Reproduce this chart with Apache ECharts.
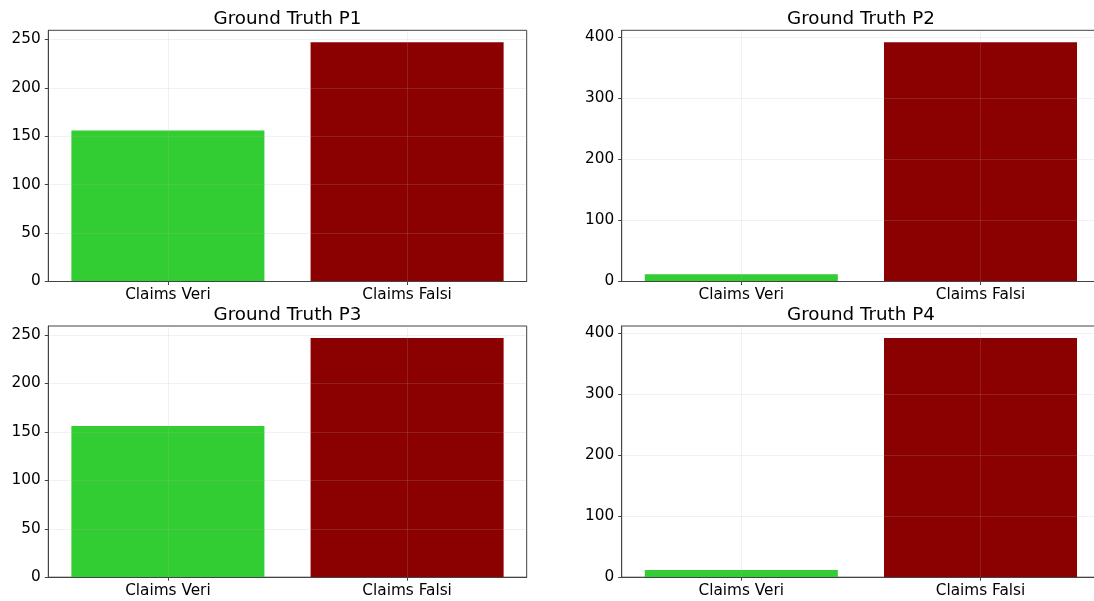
<!DOCTYPE html>
<html>
<head>
<meta charset="utf-8">
<script src="https://cdn.jsdelivr.net/npm/echarts@6/dist/echarts.min.js"></script>
<style>
  html, body { margin: 0; padding: 0; background: #fff; overflow: hidden; }
  /* the right-hand column runs a few pixels past the page edge */
  #chart { width: 1102px; height: 601px; }
</style>
</head>
<body>
<div id="chart"></div>
<script>
// Claim counts per ground-truth set
const categories = ['Claims Veri', 'Claims Falsi'];
const panelTitles = ['Ground Truth P1', 'Ground Truth P2', 'Ground Truth P3', 'Ground Truth P4'];
const valuesP1 = [156, 247];
const valuesP2 = [12, 392];
const valuesP3 = [156, 247];
const valuesP4 = [12, 392];
const ticksP1 = [0, 50, 100, 150, 200, 250];
const ticksP2 = [0, 100, 200, 300, 400];
const ticksP3 = [0, 50, 100, 150, 200, 250];
const ticksP4 = [0, 100, 200, 300, 400];
const barColors = ['#32CD32', '#8B0000'];

const panels = [
  { title: panelTitles[0], values: valuesP1, ticks: ticksP1 },
  { title: panelTitles[1], values: valuesP2, ticks: ticksP2 },
  { title: panelTitles[2], values: valuesP3, ticks: ticksP3 },
  { title: panelTitles[3], values: valuesP4, ticks: ticksP4 }
];

// subplot frames (2 x 2)
const frames = [
  { left: 48.3, top: 30.3 },
  { left: 621.7, top: 30.3 },
  { left: 48.3, top: 326 },
  { left: 621.7, top: 326 }
];
const plotW = 478.4, plotH = 251.2;
const FONT = 'DejaVu Sans';
const gridColor = 'rgba(176,176,176,0.18)';
const spineColor = '#444';

const option = {
  animation: false,
  backgroundColor: '#fff',
  title: panels.map((p, i) => ({
    text: p.title,
    left: frames[i].left + plotW / 2,
    top: frames[i].top - 20,
    textAlign: 'center',
    padding: 0,
    textStyle: { fontFamily: FONT, fontSize: 18.3, fontWeight: 'normal', color: '#000', lineHeight: 18.3 }
  })),
  grid: frames.map(f => ({
    left: f.left, top: f.top, width: plotW, height: plotH,
    show: true, borderColor: spineColor, borderWidth: 1, backgroundColor: 'transparent',
    containLabel: false
  })),
  xAxis: panels.map((p, i) => ({
    type: 'category',
    gridIndex: i,
    data: categories,
    z: 3,
    axisLine: { show: true, lineStyle: { color: spineColor, width: 1 } },
    axisTick: { show: true, alignWithLabel: true, length: 3.5, lineStyle: { color: spineColor } },
    axisLabel: { fontFamily: FONT, fontSize: 15.3, color: '#000', margin: 6, lineHeight: 16 },
    splitLine: { show: false }
  })),
  yAxis: panels.map((p, i) => ({
    type: 'value',
    gridIndex: i,
    min: 0,
    max: Math.max(...p.values) * 1.05,
    z: 3,
    axisLine: { show: true, lineStyle: { color: spineColor, width: 1 } },
    axisTick: { show: true, length: 3.5, customValues: p.ticks, lineStyle: { color: spineColor } },
    axisLabel: { fontFamily: FONT, fontSize: 15.3, color: '#000', margin: 7.5, customValues: p.ticks },
    splitLine: { show: true, lineStyle: { color: gridColor, width: 1 } }
  })),
  series: panels.map((p, i) => ({
    type: 'bar',
    xAxisIndex: i,
    yAxisIndex: i,
    barWidth: '80.7%',
    data: p.values.map((v, k) => ({ value: v, itemStyle: { color: barColors[k] } })),
    markLine: {
      silent: true,
      symbol: 'none',
      label: { show: false },
      lineStyle: { color: gridColor, width: 1, type: 'solid' },
      data: categories.map(c => ({ xAxis: c }))
    }
  }))
};

const chart = echarts.init(document.getElementById('chart'), null, { renderer: 'canvas' });
chart.setOption(option);
</script>
</body>
</html>
